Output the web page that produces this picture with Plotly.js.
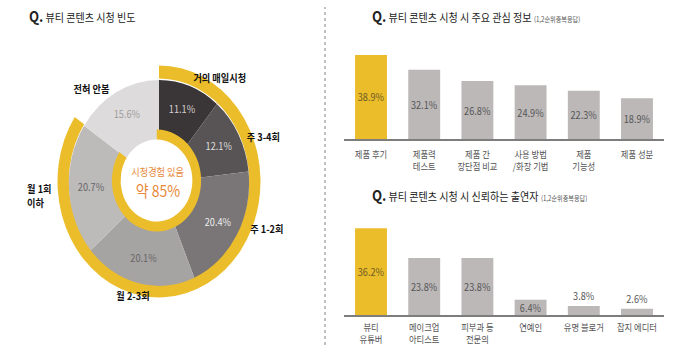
<!DOCTYPE html>
<html><head><meta charset="utf-8">
<script src="https://cdn.plot.ly/plotly-3.0.1.min.js"></script>
<style>
html,body{margin:0;padding:0;overflow:hidden;background:#fff;}
#wrap{width:700px;height:361px;overflow:hidden;}
#chart{width:800px;height:361px;transform:scaleX(0.875);transform-origin:0 0;}
</style>
</head><body><div id="wrap"><div id="chart"></div></div>
<script>
// ---- data ----
const freqLabels = ['거의 매일시청','주 3-4회','주 1-2회','월 2-3회','월 1회 이하','전혀 안봄'];
const freqValues = [11.1, 12.1, 20.4, 20.1, 20.7, 15.6];
const freqColors = ['#3a3536','#585455','#7a7677','#a6a3a3','#bdbaba','#dddbdb'];
const freqTextColors = ['#d4d0d0','#dedede','#eeeeee','#666666','#666666','#a09c9c'];

const infoCats = ['제품 후기','제품력<br>테스트','제품 간<br>장단점 비교','사용 방법<br>/화장 기법','제품<br>기능성','제품 성분'];
const infoValues = [38.9, 32.1, 26.8, 24.9, 22.3, 18.9];

const trustCats = ['뷰티<br>유튜버','메이크업<br>아티스트','피부과 등<br>전문의','연예인','유명 블로거','잡지 에디터'];
const trustValues = [36.2, 23.8, 23.8, 6.4, 3.8, 2.6];

const YELLOW = '#ebbd2b';
const GRAY = '#bcb8b8';
const FONT = '"Noto Sans CJK KR", "Noto Sans", sans-serif';

// ---- geometry helpers (layout only) ----
const W = 800, H = 361, SQ = 0.875;
function dom(cxA, cyA, r) {
  const cx = cxA / SQ;
  return {x: [(cx - r) / W, (cx + r) / W], y: [1 - (cyA + r) / H, 1 - (cyA - r) / H]};
}
function ann(xA, yA, text, o) {
  return Object.assign({xref:'paper', yref:'paper', x: xA / 700, y: 1 - yA / H, text: text,
    showarrow:false, xanchor:'center', yanchor:'middle'}, o || {});
}

const viewed = freqValues.slice(0, 5).reduce((a, b) => a + b, 0);
const notViewed = freqValues[5];

const CX = 159, CY = 182;
const traces = [];
// outer yellow ring
traces.push({type:'pie', values:[viewed, notViewed], labels:['시청','미시청'], sort:false, direction:'clockwise',
  marker:{colors:[YELLOW,'rgba(0,0,0,0)'], line:{width:0}}, textinfo:'none', hoverinfo:'skip',
  hole: 103/116, domain: dom(CX, 181.5, 116), showlegend:false});
// gray frequency ring
traces.push({type:'pie', values:freqValues, labels:freqLabels, sort:false, direction:'clockwise',
  marker:{colors:freqColors, line:{width:0}}, textinfo:'none', hoverinfo:'skip',
  hole: 46/103, domain: dom(CX, 183, 103), showlegend:false});
// inner yellow ring
traces.push({type:'pie', values:[viewed, notViewed], labels:['시청 ','미시청 '], sort:false, direction:'clockwise',
  marker:{colors:[YELLOW, freqColors[5]], line:{width:0}}, textinfo:'none', hoverinfo:'skip',
  hole: 41/51, domain: dom(156.5, 180.5, 51), showlegend:false});

// bars
traces.push({type:'bar', x:infoCats, y:infoValues, xaxis:'x', yaxis:'y', width:0.6,
  marker:{color: infoValues.map((v,i)=> i===0 ? YELLOW : GRAY)},
  text: infoValues.map(v => v.toFixed(1) + '%'), textposition:'inside', insidetextanchor:'middle',
  textangle:0, constraintext:'none', cliponaxis:false,
  textfont:{size:10.5, color: infoValues.map((v,i)=> i===0 ? '#6e5b22' : '#555555')}, hoverinfo:'skip'});
traces.push({type:'bar', x:trustCats, y:trustValues, xaxis:'x2', yaxis:'y2', width:0.6,
  marker:{color: trustValues.map((v,i)=> i===0 ? YELLOW : GRAY)},
  text: trustValues.map(v => v.toFixed(1) + '%'), textposition: trustValues.map(v => v < 5 ? 'outside' : 'inside'),
  insidetextanchor:'middle', textangle:0, constraintext:'none', cliponaxis:false,
  textfont:{size:10.5, color: trustValues.map((v,i)=> i===0 ? '#6e5b22' : '#555555')}, hoverinfo:'skip'});

// percent labels on the gray ring, placed at slice mid-angles
const total = freqValues.reduce((a,b)=>a+b,0);
const annotations = [];
let cum = 0;
const RL = 78;
freqValues.forEach((v, i) => {
  const mid = (cum + v / 2) / total * 2 * Math.PI;
  cum += v;
  annotations.push({xref:'paper', yref:'paper', showarrow:false,
    x: (CX / SQ + RL * Math.sin(mid)) / W, y: 1 - (CY - RL * Math.cos(mid)) / H,
    text: v.toFixed(1) + '%', font:{size:10.5, color:freqTextColors[i]}, xanchor:'center', yanchor:'middle'});
});

const lblFont = {size:10.5, color:'#111'};
annotations.push(ann(220, 78, '<b>' + freqLabels[0] + '</b>', {font:lblFont}));
annotations.push(ann(263, 137, '<b>' + freqLabels[1] + '</b>', {font:lblFont}));
annotations.push(ann(267, 228, '<b>' + freqLabels[2] + '</b>', {font:lblFont}));
annotations.push(ann(133, 295, '<b>' + freqLabels[3] + '</b>', {font:lblFont}));
annotations.push(ann(25, 195.5, '<b>월 1회<br>이하</b>', {font:lblFont, xanchor:'left', align:'left'}));
annotations.push(ann(91, 88, '<b>' + freqLabels[5] + '</b>', {font:lblFont}));

annotations.push(ann(158, 171.5, '시청경험 있음', {font:{size:10.5, color:'#e8893a'}}));
annotations.push(ann(158, 190.5, '약 85%', {font:{size:16, color:'#e8893a'}}));

const titleFont = {size:11.5, color:'#222'};
const Q = '<b><span style="font-size:15px">Q.</span></b> ';
annotations.push(ann(27, 15, Q + '뷰티 콘텐츠 시청 빈도', {font:titleFont, xanchor:'left'}));
annotations.push(ann(370, 15, Q + '뷰티 콘텐츠 시청 시 주요 관심 정보 <span style="font-size:7px;color:#555">(1,2순위중복응답)</span>', {font:titleFont, xanchor:'left'}));
annotations.push(ann(370, 195, Q + '뷰티 콘텐츠 시청 시 신뢰하는 출연자 <span style="font-size:7px;color:#555">(1,2순위중복응답)</span>', {font:titleFont, xanchor:'left'}));

const xAxisBase = {type:'category', range:[-0.5, 5.5], showline:true, linecolor:'#7d7d7d', linewidth:1.5,
  ticks:'', showgrid:false, zeroline:false, tickfont:{size:9.5, color:'#555'}, fixedrange:true};

const layout = {
  width: W, height: H, margin:{l:0, r:0, t:0, b:0},
  paper_bgcolor:'#ffffff', plot_bgcolor:'rgba(0,0,0,0)',
  font:{family: FONT, color:'#333'}, showlegend:false,
  xaxis: Object.assign({}, xAxisBase, {domain:[344.4/700, 663.6/700], anchor:'y', ticklabelstandoff:6}),
  yaxis: {domain:[1 - 139/H, 1 - 41.8/H], range:[0, 45], visible:false, fixedrange:true},
  xaxis2: Object.assign({}, xAxisBase, {domain:[344.4/700, 663.6/700], anchor:'y2', ticklabelstandoff:3}),
  yaxis2: {domain:[1 - 315/H, 1 - 219.2/H], range:[0, 40], visible:false, fixedrange:true},
  shapes:[{type:'line', xref:'paper', yref:'paper', x0:325/700, x1:325/700, y0:1 - 345/H, y1:1 - 7/H,
    line:{color:'#a0a0a0', width:1.5, dash:'dot'}}],
  annotations: annotations
};

Plotly.newPlot('chart', traces, layout, {staticPlot:true, displayModeBar:false});
</script>
</body></html>
